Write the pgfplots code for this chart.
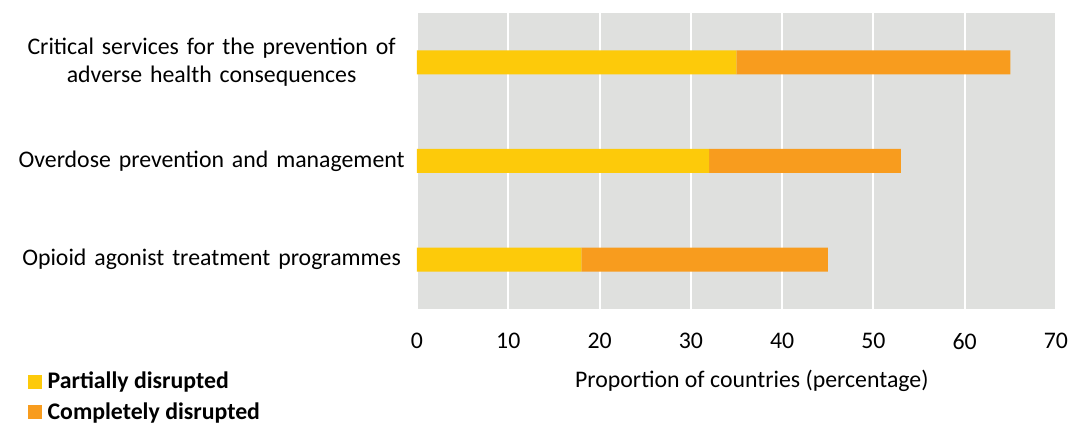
\documentclass[border=0pt]{standalone}
\usepackage{pgfplots}
\pgfplotsset{compat=1.18}
\usepackage{fontspec}
\setmainfont{Carlito}
\definecolor{bgc}{HTML}{DFE0DE}
\definecolor{yel}{HTML}{FDCA0A}
\definecolor{org}{HTML}{F89C1E}
\begin{document}
\begin{tikzpicture}[font=\fontsize{11.9pt}{14pt}\selectfont]
\path[use as bounding box] (0,0) rectangle (535.5pt,211.5pt);
\begin{axis}[
  at={(208.5pt,57pt)}, anchor=south west,
  scale only axis, width=319.5pt, height=148pt,
  xbar stacked, bar width=12pt,
  xmin=0, xmax=70, ymin=-0.5, ymax=2.5,
  xtick={0,10,...,70},
  ytick={0,1,2},
  yticklabels={Opioid agonist treatment programmes, Overdose prevention and management, {Critical services for the prevention of\\adverse health consequences}},
  yticklabel style={text width=196pt, align=center, inner sep=0pt, xshift=-4.5pt},
  xticklabel style={inner sep=0pt, yshift=-12pt},
  /pgf/number format/assume math mode=true,
  major tick length=0pt,
  axis background/.style={fill=bgc},
  axis line style={draw=none},
  xmajorgrids, grid style={white, line width=1pt},
  xlabel={Proportion of countries (percentage)},
  xlabel style={at={(axis description cs:0.524,-0.243)}, anchor=center},
  legend style={at={(axis description cs:-0.61,-0.197)}, anchor=north west, draw=none, fill=none, font=\fontsize{11.9pt}{14pt}\selectfont\bfseries, row sep=1.5pt, inner sep=0pt},
  legend cell align=left,
  legend image code/.code={\path[#1] (0pt,-3.5pt) rectangle (7pt,3.5pt); \path (8pt,0pt);},
]
\addplot[fill=yel, draw=none] coordinates {(18,0) (32,1) (35,2)};
\addplot[fill=org, draw=none] coordinates {(27,0) (21,1) (30,2)};
\legend{Partially disrupted, Completely disrupted}
\end{axis}
\end{tikzpicture}
\end{document}
